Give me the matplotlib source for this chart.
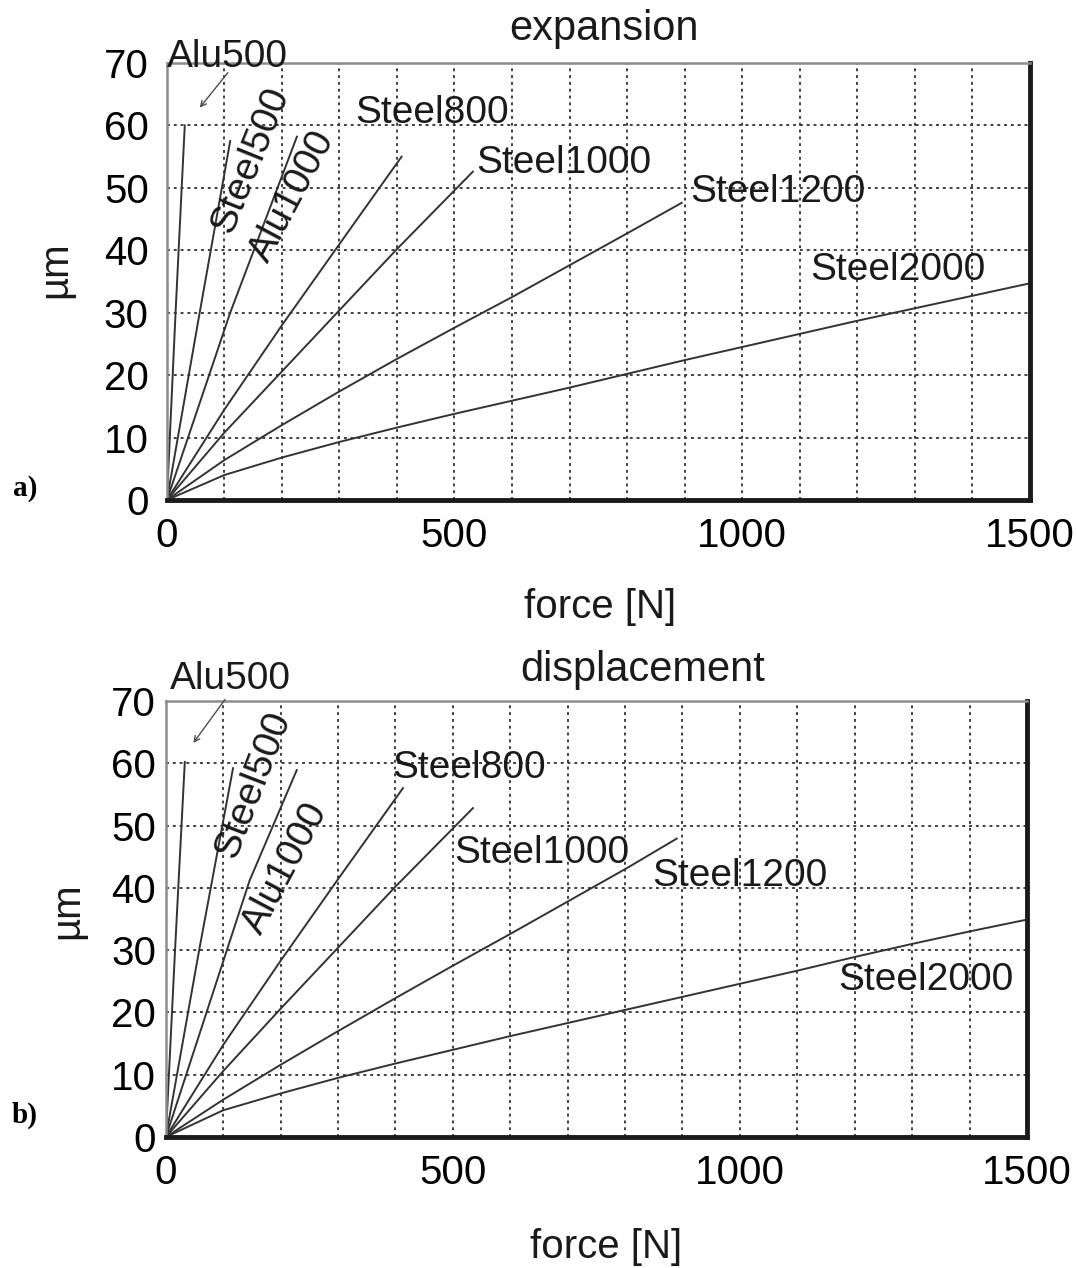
import numpy as np
import matplotlib.pyplot as plt
from matplotlib.ticker import MultipleLocator

plt.rcParams['font.family'] = ['Liberation Sans', 'DejaVu Sans']

# force [N] / displacement [um]
# panel a) expansion
a_alu500_f = [0, 15, 31]
a_alu500_u = [0, 30, 60]
a_steel500_f = [0, 55, 110]
a_steel500_u = [0, 29, 57.5]
a_alu1000_f = [0, 110, 226]
a_alu1000_u = [0, 30, 58.2]
a_steel800_f = [0, 100, 200, 300, 408]
a_steel800_u = [0, 14.5, 28, 41.0, 55]
a_steel1000_f = [0, 100, 200, 300, 400, 532]
a_steel1000_u = [0, 10.8, 20.6, 30.4, 40.2, 52.6]
a_steel1200_f = [0, 100, 200, 300, 400, 500, 600, 700, 800, 895]
a_steel1200_u = [0, 6.4, 12.0, 17.4, 22.6, 27.6, 32.5, 37.6, 42.7, 47.6]
a_steel2000_f = [0, 100, 200, 300, 400, 500, 600, 700, 800, 900, 1000, 1100, 1200, 1300, 1400, 1500]
a_steel2000_u = [0, 4.0, 6.8, 9.3, 11.6, 13.8, 15.9, 18.0, 20.2, 22.4, 24.5, 26.6, 28.7, 30.7, 32.7, 34.7]

# panel b) displacement
b_alu500_f = [0, 16, 33]
b_alu500_u = [0, 30, 60.2]
b_steel500_f = [0, 58, 117]
b_steel500_u = [0, 30, 59.2]
b_alu1000_f = [0, 146, 228]
b_alu1000_u = [0, 41.2, 58.9]
b_steel800_f = [0, 100, 200, 300, 413]
b_steel800_u = [0, 14.8, 28.3, 41.4, 56]
b_steel1000_f = [0, 100, 200, 300, 400, 535]
b_steel1000_u = [0, 10.6, 20.6, 30.4, 40.2, 52.8]
b_steel1200_f = [0, 100, 200, 300, 400, 500, 600, 700, 800, 890]
b_steel1200_u = [0, 6.0, 11.6, 17.0, 22.3, 27.5, 32.6, 37.8, 43.0, 47.9]
b_steel2000_f = [0, 100, 200, 300, 400, 500, 600, 700, 800, 900, 1000, 1100, 1200, 1300, 1400, 1500]
b_steel2000_u = [0, 4.3, 7.0, 9.5, 11.8, 14.0, 16.2, 18.3, 20.4, 22.5, 24.6, 26.7, 28.9, 31.0, 33.0, 34.9]

x_ticks = [0, 500, 1000, 1500]
y_ticks = [0, 10, 20, 30, 40, 50, 60, 70]

fig = plt.figure(figsize=(10.77, 12.68), dpi=100)
ax1 = fig.add_axes([0.155, 0.6057, 0.801, 0.3446])
ax2 = fig.add_axes([0.154, 0.1033, 0.7995, 0.3439])


def style_axes(ax, ypad):
    ax.set_xlim(0, 1500)
    ax.set_ylim(0, 70)
    ax.set_xticks(x_ticks)
    ax.set_yticks(y_ticks)
    ax.xaxis.set_minor_locator(MultipleLocator(100))
    ax.tick_params(which='both', length=0, labelsize=29)
    ax.tick_params(axis='x', pad=12)
    ax.tick_params(axis='y', pad=ypad)
    ax.grid(True, which='both', color='0.25', linestyle=(0, (1.5, 2.0)), linewidth=1.4)
    ax.set_axisbelow(True)
    ax.spines['top'].set_color('0.55')
    ax.spines['left'].set_color('0.55')
    ax.spines['top'].set_linewidth(1.8)
    ax.spines['left'].set_linewidth(1.8)
    ax.spines['bottom'].set_linewidth(3.5)
    ax.spines['right'].set_linewidth(3.5)
    ax.spines['bottom'].set_color('0.1')
    ax.spines['right'].set_color('0.1')


line_kw = dict(color='0.2', linewidth=1.4)
txt_kw = dict(fontsize=28, color='0.1')

# --- a) expansion ---
style_axes(ax1, 13)
for f, u in [(a_alu500_f, a_alu500_u), (a_steel500_f, a_steel500_u),
             (a_alu1000_f, a_alu1000_u), (a_steel800_f, a_steel800_u),
             (a_steel1000_f, a_steel1000_u), (a_steel1200_f, a_steel1200_u),
             (a_steel2000_f, a_steel2000_u)]:
    ax1.plot(f, u, **line_kw)

ax1.text(0, 71.0, 'Alu500', ha='left', va='center', clip_on=False, **txt_kw)
ax1.annotate('', xy=(54, 62.5), xytext=(109, 68.8),
             arrowprops=dict(arrowstyle='->', color='0.3', lw=1.0))
ax1.text(146, 54.5, 'Steel500', rotation=68, ha='center', va='center', **txt_kw)
ax1.text(219, 48.6, 'Alu1000', rotation=62, ha='center', va='center', **txt_kw)
ax1.text(327, 62.0, 'Steel800', ha='left', va='center', **txt_kw)
ax1.text(537, 54.0, 'Steel1000', ha='left', va='center', **txt_kw)
ax1.text(910, 49.4, 'Steel1200', ha='left', va='center', **txt_kw)
ax1.text(1118, 36.9, 'Steel2000', ha='left', va='center', **txt_kw)

ax1.text(0.507, 1.078, 'expansion', transform=ax1.transAxes, ha='center',
         va='center', fontsize=30, color='0.1')
ax1.set_xlabel('force [N]', fontsize=29, color='0.1')
ax1.xaxis.set_label_coords(0.502, -0.201)
ax1.set_ylabel('µm', fontsize=29, color='0.1')
ax1.yaxis.set_label_coords(-0.107, 0.526)

# --- b) displacement ---
style_axes(ax2, 7)
for f, u in [(b_alu500_f, b_alu500_u), (b_steel500_f, b_steel500_u),
             (b_alu1000_f, b_alu1000_u), (b_steel800_f, b_steel800_u),
             (b_steel1000_f, b_steel1000_u), (b_steel1200_f, b_steel1200_u),
             (b_steel2000_f, b_steel2000_u)]:
    ax2.plot(f, u, **line_kw)

ax2.text(7, 73.6, 'Alu500', ha='left', va='center', clip_on=False, **txt_kw)
ax2.annotate('', xy=(45, 62.9), xytext=(106, 70.6),
             arrowprops=dict(arrowstyle='->', color='0.3', lw=1.0))
ax2.text(152, 56.5, 'Steel500', rotation=69, ha='center', va='center', **txt_kw)
ax2.text(209, 43.2, 'Alu1000', rotation=62, ha='center', va='center', **txt_kw)
ax2.text(394, 59.2, 'Steel800', ha='left', va='center', **txt_kw)
ax2.text(503, 45.6, 'Steel1000', ha='left', va='center', **txt_kw)
ax2.text(848, 41.9, 'Steel1200', ha='left', va='center', **txt_kw)
ax2.text(1171, 25.2, 'Steel2000', ha='left', va='center', **txt_kw)

ax2.text(0.554, 1.072, 'displacement', transform=ax2.transAxes, ha='center',
         va='center', fontsize=30, color='0.1')
ax2.set_xlabel('force [N]', fontsize=29, color='0.1')
ax2.xaxis.set_label_coords(0.511, -0.209)
ax2.set_ylabel('µm', fontsize=29, color='0.1')
ax2.yaxis.set_label_coords(-0.093, 0.52)

# panel letters
fig.text(25 / 1077, 1 - 488 / 1268, 'a)', family='Liberation Serif', weight='bold',
         fontsize=21, ha='center', va='center')
fig.text(25 / 1077, 1 - 1115 / 1268, 'b)', family='Liberation Serif', weight='bold',
         fontsize=21, ha='center', va='center')

plt.savefig('out.png', dpi=100)
